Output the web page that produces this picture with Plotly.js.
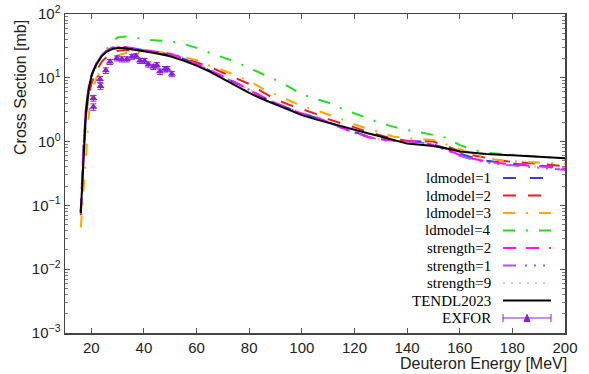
<!DOCTYPE html>
<html>
<head>
<meta charset="utf-8">
<script src="https://cdn.plot.ly/plotly-3.0.1.min.js"></script>
<style>html,body{margin:0;padding:0;background:#fff}#chart{width:589px;height:374px}</style>
</head>
<body>
<div id="chart"></div>
<script>
// ---- data ----
var E_tendl = [16, 16.5, 17, 18, 19, 20, 21, 22, 24, 26, 28, 30, 32, 35, 40, 45, 50, 55, 60, 65, 70, 75, 80, 85, 90, 95, 100, 105, 110, 115, 120, 125, 130, 135, 140, 145, 150, 155, 160, 165, 170, 180, 190, 200];
var xs_tendl = [0.076, 0.2, 0.7, 3.0, 6.5, 10.4, 13.5, 16.5, 22, 26, 28.3, 29.3, 29.3, 28.2, 26, 24, 21.8, 18.6, 15.5, 12.5, 9.7, 7.4, 5.8, 4.65, 3.8, 3.1, 2.6, 2.25, 1.97, 1.72, 1.52, 1.35, 1.2, 1.05, 0.93, 0.89, 0.85, 0.78, 0.7, 0.67, 0.64, 0.61, 0.58, 0.55];

var E_ld = [16, 17, 18, 19, 20, 22, 24, 26, 28, 30, 33, 36, 40, 45, 50, 55, 60, 65, 70, 75, 80, 85, 90, 95, 100, 105, 110, 115, 120, 125, 130, 135, 140, 145, 150, 155, 160, 165, 170, 175, 180, 190, 200];
var xs_ld1 = [0.08, 0.8, 3.4, 7.0, 10.8, 16.8, 22.5, 26.5, 29.3, 30.3, 29.8, 28.5, 26.8, 25.2, 23.2, 19.8, 16.3, 13.0, 10.3, 8.3, 6.6, 5.0, 4.0, 3.3, 2.75, 2.4, 2.0, 1.68, 1.42, 1.2, 1.1, 1.05, 1.02, 1.0, 0.9, 0.78, 0.65, 0.56, 0.5, 0.47, 0.45, 0.42, 0.39];
var xs_ld2 = [0.07, 0.6, 2.6, 5.2, 8.0, 13.0, 18.0, 21.5, 24.5, 26.5, 27.3, 27.0, 26.5, 25.2, 23.8, 20.6, 17.3, 14.9, 12.0, 9.9, 8.0, 6.0, 4.6, 3.8, 3.2, 2.75, 2.25, 1.95, 1.67, 1.42, 1.25, 1.1, 1.03, 1.01, 1.0, 0.85, 0.7, 0.61, 0.55, 0.51, 0.48, 0.45, 0.41];
var xs_ld3 = [0.045, 0.2, 0.6, 2.5, 5.7, 10.0, 13.5, 16.5, 20.0, 22.5, 24.3, 25.3, 25.7, 25.5, 24.0, 21.5, 18.8, 15.5, 13.2, 10.8, 9.0, 6.8, 5.5, 4.5, 3.6, 3.15, 2.7, 2.25, 1.85, 1.6, 1.38, 1.19, 1.13, 1.09, 1.06, 0.9, 0.76, 0.64, 0.56, 0.51, 0.49, 0.47, 0.45];
var xs_ld4 = [0.08, 0.6, 2.5, 5.5, 9.0, 16.0, 22.0, 28.0, 37.0, 43.0, 44.5, 43.0, 40.0, 38.5, 37.3, 34.0, 29.5, 24.6, 21.0, 17.7, 14.2, 11.5, 9.3, 7.3, 5.5, 4.7, 4.1, 3.3, 2.75, 2.3, 1.95, 1.7, 1.52, 1.4, 1.28, 1.15, 0.88, 0.75, 0.67, 0.64, 0.62, 0.58, 0.55];
var xs_st2 = [0.08, 0.8, 3.5, 7.2, 11.0, 17.0, 23.0, 27.0, 30.0, 30.9, 30.3, 29.0, 27.0, 25.5, 23.5, 20.0, 16.5, 13.2, 10.5, 8.4, 6.4, 5.0, 4.0, 3.3, 2.75, 2.45, 2.0, 1.65, 1.4, 1.19, 1.08, 1.04, 1.01, 1.0, 0.88, 0.75, 0.62, 0.54, 0.49, 0.46, 0.44, 0.41, 0.38];
var xs_st1 = [0.08, 0.8, 3.5, 7.1, 10.9, 16.9, 22.8, 26.8, 29.7, 30.6, 30.0, 28.7, 26.9, 25.3, 23.3, 19.9, 16.4, 13.1, 10.4, 8.3, 6.5, 5.0, 4.0, 3.3, 2.72, 2.42, 1.98, 1.64, 1.38, 1.18, 1.06, 1.02, 0.99, 0.98, 0.86, 0.73, 0.6, 0.52, 0.47, 0.44, 0.42, 0.39, 0.36];
var xs_st9 = [0.08, 0.8, 3.5, 7.1, 10.9, 16.9, 22.8, 26.8, 29.8, 30.7, 30.1, 28.8, 26.9, 25.4, 23.4, 19.9, 16.4, 13.1, 10.4, 8.3, 6.5, 5.0, 4.0, 3.3, 2.73, 2.43, 1.99, 1.65, 1.39, 1.18, 1.07, 1.03, 1.0, 0.99, 0.87, 0.74, 0.61, 0.53, 0.48, 0.45, 0.43, 0.4, 0.37];

var E_exfor = [20.8, 20.8, 23.3, 23.5, 25.5, 27.1, 29.7, 31.6, 33.5, 35.4, 37.0, 38.5, 40.2, 41.7, 43.6, 44.9, 46.1, 48.0, 48.9, 50.6];
var xs_exfor = [3.5, 4.8, 9.5, 7.4, 13.0, 17.8, 20.2, 19.5, 19.5, 21.4, 21.9, 18.5, 18.4, 16.2, 14.9, 15.8, 12.5, 13.7, 13.7, 11.5];
var err_exfor = [0.4, 0.5, 1.0, 0.8, 1.3, 1.6, 1.8, 1.8, 1.8, 1.9, 1.9, 1.7, 1.7, 1.5, 1.4, 1.5, 1.2, 1.3, 1.3, 1.1];

var yTickVals = [0.001, 0.01, 0.1, 1, 10, 100];
var yTickText = ['10<sup>−3</sup>', '10<sup>−2</sup>', '10<sup>−1</sup>', '10<sup>0</sup>', '10<sup>1</sup>', '10<sup>2</sup>'];
var xTickVals = [20, 40, 60, 80, 100, 120, 140, 160, 180, 200];

var seriesNames = ['ldmodel=1', 'ldmodel=2', 'ldmodel=3', 'ldmodel=4', 'strength=2', 'strength=1', 'strength=9', 'TENDL2023', 'EXFOR'];

// ---- styles ----
var styles = [
  {color: '#3a3ad8', dash: '13px,14px', width: 2},
  {color: '#e82020', dash: '13px,12px', width: 2},
  {color: '#ffa500', dash: '12px,11px,2px,11px', width: 2},
  {color: '#22dd22', dash: '12px,11px,2px,11px', width: 2},
  {color: '#ff10ff', dash: '13px,10px', width: 2},
  {color: '#a855f7', dash: '13px,9px,2px,7px,2px,7px,2px,7px', width: 2},
  {color: '#ffb0c0', dash: '2px,6px', width: 2},
  {color: '#000000', dash: 'solid', width: 2}
];
var exforColor = '#8a1ed6';

var ys = [xs_ld1, xs_ld2, xs_ld3, xs_ld4, xs_st2, xs_st1, xs_st9];
var traces = [];
var order = [6, 5, 0, 1, 2, 3, 4];
order.forEach(function(i){
  traces.push({x: E_ld, y: ys[i], type: 'scatter', mode: 'lines', name: seriesNames[i],
    line: {color: styles[i].color, dash: styles[i].dash, width: styles[i].width}, showlegend: false});
});
traces.push({x: E_tendl, y: xs_tendl, type: 'scatter', mode: 'lines', name: seriesNames[7],
  line: {color: '#000', width: 2}, showlegend: false});
traces.push({x: E_exfor, y: xs_exfor, type: 'scatter', mode: 'markers', name: seriesNames[8],
  marker: {symbol: 'triangle-up', size: 7, color: exforColor},
  error_y: {type: 'data', array: err_exfor, visible: true, color: exforColor, thickness: 1, width: 3},
  showlegend: false});

// ---- custom legend (gnuplot-style: text right, sample to the right) ----
var L = 65, R = 565, T = 14, B = 333;
function px2x(p){ return (p - L) / (R - L); }
function py2y(p){ return (B - p) / (B - T); }
var annotations = [], shapes = [];
var row0 = 178, rowStep = 17.5;
seriesNames.forEach(function(nm, i){
  var yy = py2y(row0 + i * rowStep);
  annotations.push({xref: 'paper', yref: 'paper', x: px2x(492), y: yy, xanchor: 'right', yanchor: 'middle',
    text: nm, showarrow: false, borderpad: 0,
    font: {family: 'Liberation Serif, Times New Roman, serif', size: 15, color: '#000'}});
  if (i < 8) {
    shapes.push({type: 'line', xref: 'paper', yref: 'paper', x0: px2x(503), x1: px2x(551), y0: yy, y1: yy,
      line: {color: styles[i].color, dash: styles[i].dash, width: styles[i].width}});
  } else {
    shapes.push({type: 'line', xref: 'paper', yref: 'paper', x0: px2x(503), x1: px2x(551), y0: yy, y1: yy,
      line: {color: exforColor, width: 1}});
    [503, 551].forEach(function(cx){
      shapes.push({type: 'line', xref: 'paper', yref: 'paper', x0: px2x(cx), x1: px2x(cx), y0: py2y(row0 + i*rowStep - 4), y1: py2y(row0 + i*rowStep + 4),
        line: {color: exforColor, width: 1}});
    });
    var cx = px2x(527), dx = 3 / (R - L), dy = 3.5 / (B - T);
    shapes.push({type: 'path', xref: 'paper', yref: 'paper',
      path: 'M ' + (cx - dx) + ' ' + (yy - dy) + ' L ' + (cx + dx) + ' ' + (yy - dy) + ' L ' + cx + ' ' + (yy + dy) + ' Z',
      fillcolor: exforColor, line: {color: exforColor, width: 1}});
  }
});
annotations.push({xref: 'paper', yref: 'paper', x: px2x(20), y: py2y(88), xanchor: 'center', yanchor: 'middle',
  textangle: -90, text: 'Cross Section [mb]', showarrow: false, borderpad: 0,
  font: {family: 'Liberation Sans, Arial, sans-serif', size: 16, color: '#222'}});
annotations.push({xref: 'paper', yref: 'paper', x: px2x(568), y: py2y(363), xanchor: 'right', yanchor: 'middle',
  text: 'Deuteron Energy [MeV]', showarrow: false, borderpad: 0,
  font: {family: 'Liberation Sans, Arial, sans-serif', size: 16, color: '#222'}});

var layout = {
  width: 589, height: 374,
  margin: {l: L, r: 589 - R, t: T, b: 374 - B},
  paper_bgcolor: '#fff', plot_bgcolor: '#fff',
  font: {family: 'Liberation Sans, Arial, sans-serif', size: 15, color: '#222'},
  xaxis: {range: [10, 200], tickmode: 'array', tickvals: xTickVals, ticks: 'inside', ticklen: 5, tickcolor: '#555',
    showline: true, linecolor: '#444', linewidth: 1.5, mirror: 'ticks', showgrid: false, zeroline: false,
    tickfont: {size: 15, color: '#222'}},
  yaxis: {type: 'log', range: [-3, 2], tickmode: 'array', tickvals: yTickVals, ticktext: yTickText,
    ticks: 'inside', ticklen: 5, tickcolor: '#555',
    minor: {ticks: 'inside', ticklen: 3, tickcolor: '#777', dtick: 'D1', showgrid: false},
    showline: true, linecolor: '#444', linewidth: 1.5, mirror: 'ticks', showgrid: false, zeroline: false,
    tickfont: {size: 15, color: '#222'}},
  showlegend: false,
  annotations: annotations,
  shapes: shapes
};
Plotly.newPlot('chart', traces, layout, {displayModeBar: false, staticPlot: true});
</script>
</body>
</html>
